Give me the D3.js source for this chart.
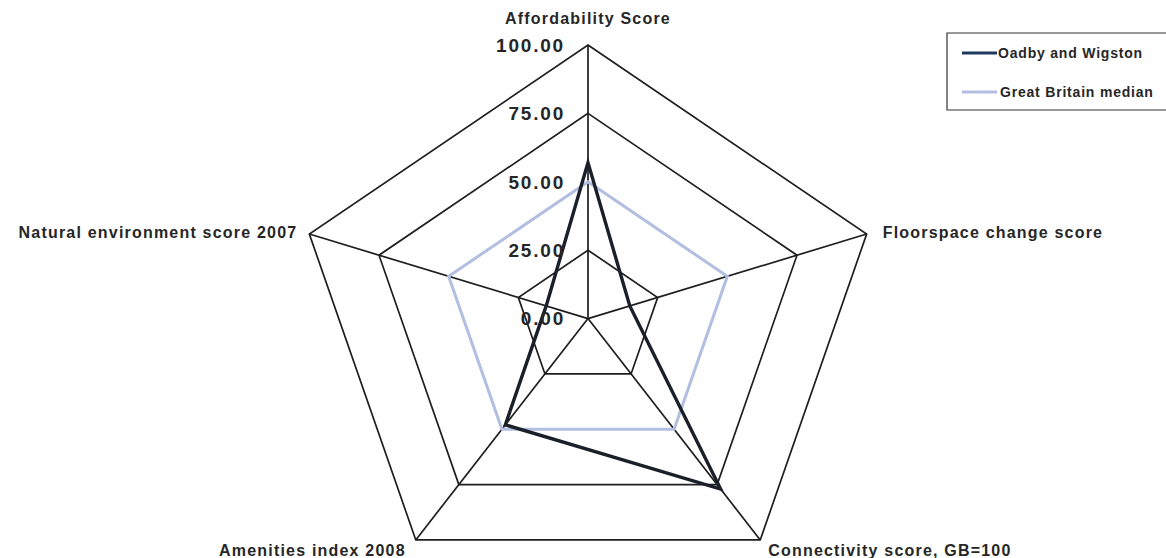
<!DOCTYPE html>
<html>
<head>
<meta charset="utf-8">
<script src="https://cdn.jsdelivr.net/npm/d3@7"></script>
<style>
  body { margin: 0; background: #fff; }
  text { font-family: "Liberation Sans", Arial, sans-serif; font-weight: bold; fill: #262626; }
</style>
</head>
<body>
<div id="chart"></div>
<script>
// radar data
const categories = ["Affordability Score", "Floorspace change score", "Connectivity score, GB=100", "Amenities index 2008", "Natural environment score 2007"];
const oadbyValues = [57, 15, 77, 48, 15];
const gbMedianValues = [50, 50, 50, 50, 50];
const ringValues = [0, 25, 50, 75, 100];
const tickLabels = ["0.00", "25.00", "50.00", "75.00", "100.00"];
const seriesNames = ["Oadby and Wigston", "Great Britain median"];

const width = 1166, height = 558;
const cx = 588, cy = 318.6;

let svg = d3.select("#chart").append("svg")
  .attr("width", width)
  .attr("height", height);

// the original is stretched a bit horizontally, so two radial scales
let rx = d3.scaleLinear().domain([0, 100]).range([0, 293]);
let ry = d3.scaleLinear().domain([0, 100]).range([0, 273.6]);

function angle(i) { return (i * 72 - 90) * Math.PI / 180; }
function px(i, v) { return cx + rx(v) * Math.cos(angle(i)); }
function py(i, v) { return cy + ry(v) * Math.sin(angle(i)); }

let line = d3.line().x(d => d[0]).y(d => d[1]).curve(d3.curveLinearClosed);

// grid rings
let grid = svg.append("g");
ringValues.filter(v => v > 0).forEach(v => {
  grid.append("path")
    .attr("d", line(categories.map((c, i) => [px(i, v), py(i, v)])))
    .attr("fill", "none")
    .attr("stroke", "#1e1e1e")
    .attr("stroke-width", 1.7);
});

// spokes
grid.selectAll("line.spoke")
  .data(categories)
  .enter()
  .append("line")
    .attr("x1", cx).attr("y1", cy)
    .attr("x2", (d, i) => px(i, 100))
    .attr("y2", (d, i) => py(i, 100))
    .attr("stroke", "#1e1e1e")
    .attr("stroke-width", 1.7);

// series
function drawSeries(vals, color, w) {
  svg.append("path")
    .attr("d", line(vals.map((v, i) => [px(i, v), py(i, v)])))
    .attr("fill", "none")
    .attr("stroke", color)
    .attr("stroke-width", w)
    .attr("stroke-linejoin", "miter");
}
drawSeries(gbMedianValues, "#b3bfe2", 3);
drawSeries(oadbyValues, "#1a2029", 3.4);

// value axis labels along the top spoke
svg.append("g")
  .selectAll("text")
  .data(ringValues)
  .enter()
  .append("text")
    .attr("x", 565)
    .attr("y", d => cy - ry(d))
    .attr("dy", "0.36em")
    .attr("text-anchor", "end")
    .attr("font-size", "19px")
    .attr("letter-spacing", "1.8px")
    .attr("fill", "#333")
    .text((d, i) => tickLabels[i]);

// category labels
let catPos = [
  {x: px(0, 100), y: 18, anchor: "middle"},
  {x: px(1, 100) + 16, y: py(1, 100) - 2, anchor: "start"},
  {x: px(2, 100) + 8, y: 550, anchor: "start"},
  {x: px(3, 100) - 10, y: 550, anchor: "end"},
  {x: px(4, 100) - 12, y: py(4, 100) - 2, anchor: "end"}
];
svg.append("g")
  .selectAll("text")
  .data(categories)
  .enter()
  .append("text")
    .attr("x", (d, i) => catPos[i].x)
    .attr("y", (d, i) => catPos[i].y)
    .attr("dy", "0.36em")
    .attr("text-anchor", (d, i) => catPos[i].anchor)
    .attr("font-size", "16px")
    .attr("letter-spacing", "1.2px")
    .text(d => d);

// legend
let legend = svg.append("g");
legend.append("path")
  .attr("d", "M1166,33 H947 V110 H1166")
  .attr("fill", "none")
  .attr("stroke", "#333")
  .attr("stroke-width", 1.2);
let legendColors = ["#1f3a60", "#b3bfe2"];
let legendY = [53, 92];
seriesNames.forEach((name, i) => {
  legend.append("line")
    .attr("x1", 962).attr("x2", 997)
    .attr("y1", legendY[i]).attr("y2", legendY[i])
    .attr("stroke", legendColors[i])
    .attr("stroke-width", 3);
  legend.append("text")
    .attr("x", 998 + (i * 2))
    .attr("y", legendY[i])
    .attr("dy", "0.36em")
    .attr("font-size", "14px")
    .attr("letter-spacing", "0.8px")
    .text(name);
});
</script>
</body>
</html>
